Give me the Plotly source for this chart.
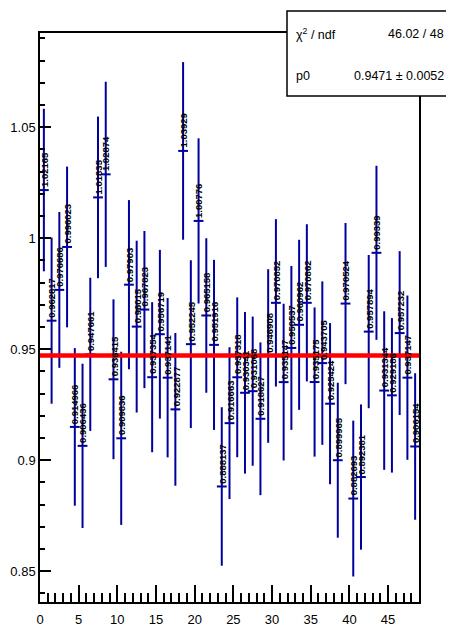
import plotly.graph_objects as go

# ---- data ----
bin_centers = [i + 0.5 for i in range(49)]
values = [1.02165, 0.962817, 0.976686, 0.996023, 0.914966, 0.906436, 0.947661,
          1.01835, 1.02874, 0.936415, 0.909836, 0.97903, 0.96015, 0.967823,
          0.937354, 0.956719, 0.937141, 0.922877, 1.03929, 0.952245, 1.00776,
          0.965158, 0.951916, 0.888137, 0.916663, 0.937318, 0.930341, 0.931068,
          0.918627, 0.946908, 0.970852, 0.935147, 0.950537, 0.960962, 0.970862,
          0.935175, 0.943705, 0.925424, 0.899965, 0.970524, 0.882693, 0.892381,
          0.957894, 0.99339, 0.931344, 0.929186, 0.957232, 0.937147, 0.906154]
errors = [0.0366, 0.0374, 0.0351, 0.0362, 0.0355, 0.0370, 0.0345,
          0.0364, 0.0417, 0.0360, 0.0390, 0.0381, 0.0387, 0.0354,
          0.0338, 0.0380, 0.0359, 0.0344, 0.0400, 0.0378, 0.0372,
          0.0348, 0.0383, 0.0357, 0.0342, 0.0360, 0.0364, 0.0336,
          0.0344, 0.0391, 0.0377, 0.0353, 0.0369, 0.0383, 0.0354,
          0.0336, 0.0368, 0.0363, 0.0349, 0.0363, 0.0351, 0.0327,
          0.0345, 0.0392, 0.0357, 0.0348, 0.0369, 0.0370, 0.0330]
fit_x = [0, 49]
fit_p0 = 0.9471
fit_p0_err = 0.0052
chi2 = 46.02
ndf = 48
x_tickvals = [0, 5, 10, 15, 20, 25, 30, 35, 40, 45]
x_ticktext = ["0", "5", "10", "15", "20", "25", "30", "35", "40", "45"]
y_tickvals = [0.85, 0.9, 0.95, 1.0, 1.05]
y_ticktext = ["0.85", "0.9", "0.95", "1", "1.05"]

BLUE = "#00009C"
FONT = "Liberation Sans, Arial, Helvetica, sans-serif"

fig = go.Figure()
fig.add_trace(go.Scatter(
    x=bin_centers, y=values, mode="markers",
    marker=dict(symbol="line-ew", size=7, color=BLUE,
                line=dict(color=BLUE, width=2)),
    error_y=dict(type="data", array=errors, visible=True,
                 color=BLUE, thickness=2, width=0),
    showlegend=False, hoverinfo="skip",
))
fig.add_trace(go.Scatter(
    x=fit_x, y=[fit_p0] * len(fit_x), mode="lines",
    line=dict(color="#FF0000", width=4.5),
    showlegend=False, hoverinfo="skip",
))

annotations = []
for xc, v in zip(bin_centers, values):
    annotations.append(dict(
        x=xc, y=v, xref="x", yref="y", text=f"<b>{v:.6g}</b>",
        textangle=-90, showarrow=False, xanchor="center", yanchor="bottom",
        yshift=2, xshift=0.5, borderpad=0,
        font=dict(family=FONT, size=9.5, color="#000000"),
    ))

# page-pixel -> paper coordinates (plot area spans x 40..419, y 33..602 on the page)
def px(xp):
    return (xp - 40) / 379.0

def py(yp):
    return (602 - yp) / 569.0

stats_rows = [
    ("\u03c7<sup>2</sup> / ndf", f"{chi2:.2f} / {ndf}", 34),
    ("p0", f"{fit_p0:.4f} \u00b1 {fit_p0_err:.4f}", 76),
]
for left, right, yy in stats_rows:
    annotations.append(dict(x=px(294), y=py(yy), xref="paper", yref="paper",
                            text=left, showarrow=False, xanchor="left",
                            yanchor="middle",
                            font=dict(family=FONT, size=12.5, color="#000")))
    annotations.append(dict(x=px(446), y=py(yy), xref="paper", yref="paper",
                            text=right, showarrow=False, xanchor="right",
                            yanchor="middle",
                            font=dict(family=FONT, size=12.5, color="#000")))

shapes = [dict(type="rect", xref="paper", yref="paper",
               x0=px(287), x1=px(470), y0=py(96), y1=py(11),
               line=dict(color="#000", width=1.5), fillcolor="#FFFFFF",
               layer="above")]

# the page body adds an 8px margin, so the figure is 8px smaller than the window
fig.update_layout(
    width=446, height=618,
    margin=dict(l=32, r=35, t=25, b=24, autoexpand=False),
    paper_bgcolor="#FFFFFF", plot_bgcolor="#FFFFFF",
    font=dict(family=FONT, size=13, color="#000"),
    annotations=annotations, shapes=shapes,
    xaxis=dict(range=[0, 49], tickvals=x_tickvals, ticktext=x_ticktext,
               automargin=False,
               ticks="inside", ticklen=17, tickwidth=1.5, tickcolor="#000",
               ticklabelstandoff=5,
               minor=dict(dtick=1, ticks="inside", ticklen=9, tickwidth=1.5,
                          tickcolor="#000", showgrid=False),
               showline=True, mirror=True, linecolor="#000", linewidth=1.5,
               showgrid=False, zeroline=False,
               tickfont=dict(family=FONT, size=13, color="#000")),
    yaxis=dict(range=[0.8361, 1.0924], tickvals=y_tickvals, ticktext=y_ticktext,
               automargin=False,
               ticks="inside", ticklen=11, tickwidth=1.5, tickcolor="#000",
               minor=dict(dtick=0.01, tick0=0.85, ticks="inside", ticklen=5.5,
                          tickwidth=1.5, tickcolor="#000", showgrid=False),
               showline=True, mirror=True, linecolor="#000", linewidth=1.5,
               showgrid=False, zeroline=False,
               tickfont=dict(family=FONT, size=13, color="#000")),
)

fig.write_html("out.html")
